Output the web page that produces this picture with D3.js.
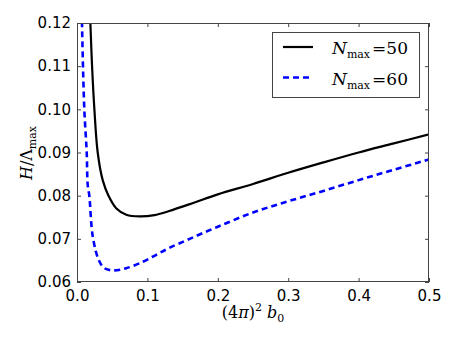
<!DOCTYPE html>
<html>
<head>
<meta charset="utf-8">
<script src="https://cdn.jsdelivr.net/npm/d3@7"></script>
<style>
  body { margin: 0; background: #fff; }
  text { fill: #000; }
  .tick text { font-family: "DejaVu Sans", sans-serif; font-size: 15px; }
  .math { font-family: "DejaVu Serif", serif; }
</style>
</head>
<body>
<script>
// values
var b0_50 = [0.018, 0.019, 0.0214, 0.0247, 0.0294, 0.0365, 0.0447, 0.0556, 0.070, 0.089, 0.11, 0.13, 0.165, 0.2, 0.25, 0.3, 0.35, 0.4, 0.45, 0.5];
var h_50  = [0.125, 0.12, 0.11, 0.10, 0.09, 0.0836, 0.080, 0.0771, 0.0756, 0.0752, 0.0755, 0.0764, 0.0783, 0.0803, 0.0827, 0.0853, 0.0877, 0.0900, 0.0921, 0.0942];

var b0_60 = [0.0068, 0.0071, 0.0104, 0.0138, 0.0152, 0.0175, 0.0224, 0.0309, 0.039, 0.0517, 0.070, 0.0936, 0.1125, 0.13, 0.16, 0.2, 0.25, 0.3, 0.35, 0.4, 0.45, 0.5];
var h_60  = [0.125, 0.12, 0.10, 0.09, 0.0825, 0.080, 0.0705, 0.0651, 0.0632, 0.0627, 0.0632, 0.0647, 0.0663, 0.0678, 0.0700, 0.0728, 0.0761, 0.0787, 0.0811, 0.0836, 0.0860, 0.0884];

var xTicks = [0.0, 0.1, 0.2, 0.3, 0.4, 0.5];
var yTicks = [0.06, 0.07, 0.08, 0.09, 0.10, 0.11, 0.12];

var W = 457, H = 343;
// plot box (note: "top" is reserved on window, so prefix these)
var pL = 77, pR = 429, pT = 23, pB = 282;

var svg = d3.select("body").append("svg")
    .attr("width", W)
    .attr("height", H);

var x = d3.scaleLinear().domain([0, 0.5]).range([pL, pR]);
var y = d3.scaleLinear().domain([0.06, 0.12]).range([pB, pT]);

svg.append("clipPath").attr("id", "clip")
  .append("rect")
    .attr("x", pL).attr("y", pT)
    .attr("width", pR - pL).attr("height", pB - pT);

var line = d3.line()
    .x(function(d) { return x(d[0]); })
    .y(function(d) { return y(d[1]); })
    .curve(d3.curveCatmullRom.alpha(0.5));

var s50 = b0_50.map(function(v, i) { return [v, h_50[i]]; });
var s60 = b0_60.map(function(v, i) { return [v, h_60[i]]; });

var plot = svg.append("g").attr("clip-path", "url(#clip)");
plot.append("path")
    .attr("d", line(s50))
    .attr("fill", "none")
    .attr("stroke", "#000")
    .attr("stroke-width", 2.2);
plot.append("path")
    .attr("d", line(s60))
    .attr("fill", "none")
    .attr("stroke", "#0000ff")
    .attr("stroke-width", 2.6)
    .attr("stroke-dasharray", "6,4");

// axes: ticks pointing inward, on all four sides
var fmtX = d3.format(".1f"), fmtY = d3.format(".2f");

svg.append("g")
    .attr("transform", "translate(0," + pB + ")")
    .call(d3.axisBottom(x).tickValues(xTicks).tickFormat(fmtX).tickSizeInner(-4).tickSizeOuter(0).tickPadding(8));
svg.append("g")
    .attr("transform", "translate(0," + pT + ")")
    .call(d3.axisTop(x).tickValues(xTicks).tickFormat("").tickSizeInner(-4).tickSizeOuter(0));
svg.append("g")
    .attr("transform", "translate(" + pL + ",0)")
    .call(d3.axisLeft(y).tickValues(yTicks).tickFormat(fmtY).tickSizeInner(-4).tickSizeOuter(0).tickPadding(6));
svg.append("g")
    .attr("transform", "translate(" + pR + ",0)")
    .call(d3.axisRight(y).tickValues(yTicks).tickFormat("").tickSizeInner(-4).tickSizeOuter(0));

svg.selectAll(".domain").remove();
svg.selectAll(".tick line").attr("stroke", "#444");

svg.append("rect")
    .attr("x", pL + 0.5).attr("y", pT + 0.5)
    .attr("width", pR - pL - 1).attr("height", pB - pT - 1)
    .attr("fill", "none")
    .attr("stroke", "#444")
    .attr("stroke-width", 1);

// axis labels
var xl = svg.append("text")
    .attr("class", "math")
    .attr("x", 253).attr("y", 318)
    .attr("text-anchor", "middle")
    .style("font-size", "16px");
xl.append("tspan").text("(4");
xl.append("tspan").style("font-style", "italic").text("π");
xl.append("tspan").text(")");
xl.append("tspan").attr("dy", -7).style("font-size", "11px").text("2");
xl.append("tspan").attr("dy", 7).attr("dx", 5).style("font-style", "italic").text("b");
xl.append("tspan").attr("dy", 4).style("font-size", "11px").text("0");

var yl = svg.append("text")
    .attr("class", "math")
    .attr("transform", "translate(32,153) rotate(-90)")
    .attr("text-anchor", "middle")
    .style("font-size", "16px");
yl.append("tspan").style("font-style", "italic").text("H");
yl.append("tspan").text("/Λ");
yl.append("tspan").attr("dy", 4).style("font-size", "11px").text("max");

// legend
var legend = svg.append("g");
legend.append("rect")
    .attr("x", 272.5).attr("y", 32.5)
    .attr("width", 147).attr("height", 65)
    .attr("fill", "#fff")
    .attr("stroke", "#444");

var entries = [
  { n: "50", color: "#000", dash: null, w: 2.2 },
  { n: "60", color: "#0000ff", dash: "6,4", w: 2.6 }
];
entries.forEach(function(e, i) {
  var cy = 47 + i * 30.5;
  legend.append("line")
      .attr("x1", 283).attr("x2", 313)
      .attr("y1", cy).attr("y2", cy)
      .attr("stroke", e.color)
      .attr("stroke-width", e.w)
      .attr("stroke-dasharray", e.dash);
  var t = legend.append("text")
      .attr("class", "math")
      .attr("x", 332).attr("y", cy + 7)
      .style("font-size", "17px");
  t.append("tspan").style("font-style", "italic").text("N");
  t.append("tspan").attr("dy", 4).style("font-size", "11px").text("max");
  t.append("tspan").attr("dy", -4).attr("dx", 2).text("=" + e.n);
});
</script>
</body>
</html>
